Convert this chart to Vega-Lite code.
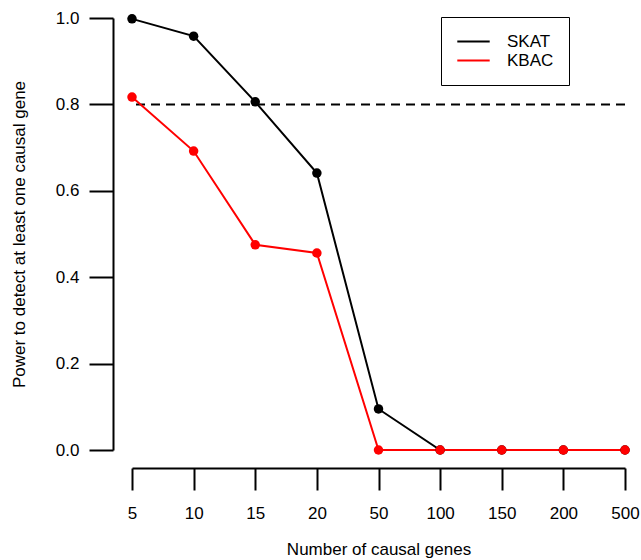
{
  "$schema": "https://vega.github.io/schema/vega-lite/v6.json",
  "autosize": "none",
  "width": 493,
  "height": 432,
  "padding": {"left": 132, "top": 18, "right": 16, "bottom": 110},
  "background": "white",
  "config": {
    "view": {"stroke": null},
    "font": "Liberation Sans",
    "axis": {"grid": false, "domainColor": "black", "tickColor": "black", "labelColor": "black", "titleColor": "black", "domainWidth": 2, "tickWidth": 2, "tickSize": 22, "labelFontSize": 17, "titleFontSize": 17, "titleFontWeight": "normal", "labelFont": "Liberation Sans", "titleFont": "Liberation Sans"}
  },
  "data": {
    "values": [
      {"genes": "5", "method": "SKAT", "power": 0.998},
      {"genes": "10", "method": "SKAT", "power": 0.958},
      {"genes": "15", "method": "SKAT", "power": 0.806},
      {"genes": "20", "method": "SKAT", "power": 0.641},
      {"genes": "50", "method": "SKAT", "power": 0.095},
      {"genes": "100", "method": "SKAT", "power": 0.0},
      {"genes": "150", "method": "SKAT", "power": 0.0},
      {"genes": "200", "method": "SKAT", "power": 0.0},
      {"genes": "500", "method": "SKAT", "power": 0.0},
      {"genes": "5", "method": "KBAC", "power": 0.817},
      {"genes": "10", "method": "KBAC", "power": 0.692},
      {"genes": "15", "method": "KBAC", "power": 0.475},
      {"genes": "20", "method": "KBAC", "power": 0.456},
      {"genes": "50", "method": "KBAC", "power": 0.0},
      {"genes": "100", "method": "KBAC", "power": 0.0},
      {"genes": "150", "method": "KBAC", "power": 0.0},
      {"genes": "200", "method": "KBAC", "power": 0.0},
      {"genes": "500", "method": "KBAC", "power": 0.0}
    ]
  },
  "layer": [
    {
      "data": {"values": [{"ref": 0.8}]},
      "mark": {"type": "rule", "strokeDash": [9, 6], "strokeWidth": 2, "color": "black"},
      "encoding": {"y": {"field": "ref", "type": "quantitative", "scale": {"domain": [0, 1]}}}
    },
    {
      "mark": {"type": "line", "strokeWidth": 2},
      "encoding": {
        "x": {"field": "genes", "type": "ordinal", "sort": ["5","10","15","20","50","100","150","200","500"], "scale": {"type": "point", "padding": 0}, "axis": {"title": "Number of causal genes", "labelAngle": 0, "offset": 18, "labelPadding": 15, "titlePadding": 20}},
        "y": {"field": "power", "type": "quantitative", "scale": {"domain": [0, 1]}, "axis": {"title": "Power to detect at least one causal gene", "values": [0, 0.2, 0.4, 0.6, 0.8, 1.0], "format": ".1f", "offset": 19, "tickSize": 24, "labelPadding": 10, "titlePadding": 27}},
        "color": {"field": "method", "type": "nominal", "scale": {"domain": ["SKAT", "KBAC"], "range": ["black", "#ff0000"]}, "legend": {"title": null, "orient": "none", "legendX": 309, "legendY": -1, "symbolType": "stroke", "symbolSize": 1050, "symbolStrokeWidth": 2, "labelFontSize": 17, "labelColor": "black", "strokeColor": "black", "padding": 15, "rowPadding": 0, "clipHeight": 19, "symbolOffset": 0, "labelOffset": 16}}
      }
    },
    {
      "mark": {"type": "circle", "size": 90, "opacity": 1},
      "encoding": {
        "x": {"field": "genes", "type": "ordinal", "sort": ["5","10","15","20","50","100","150","200","500"]},
        "y": {"field": "power", "type": "quantitative"},
        "color": {"field": "method", "type": "nominal", "legend": null}
      }
    }
  ]
}
